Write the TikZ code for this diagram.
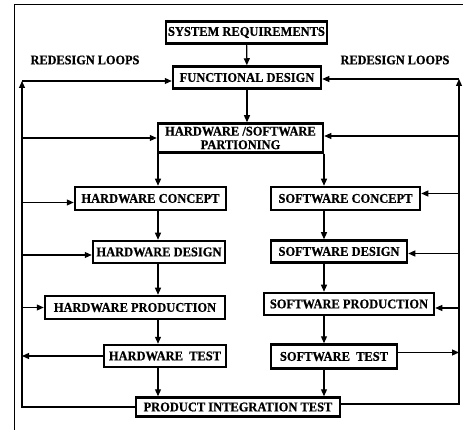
\documentclass[tikz,border=0pt]{standalone}
\usepackage{fontspec}
\setmainfont{Liberation Serif}
\newfontfamily\boxfont[FakeStretch=0.93,FakeBold=0.6]{Liberation Serif}
\usetikzlibrary{arrows.meta,calc}
\tikzset{
  box/.style={draw=black, line width=2.5pt, fill=white, inner sep=0pt,
    font=\boxfont\fontsize{13.4}{13.5}\selectfont\bfseries, align=center},
  arr/.style={line width=1.2pt, -{Triangle[length=7pt,width=6pt]}},
  loopline/.style={line width=1.1pt},
  lbl/.style={font=\boxfont\fontsize{13.2}{13.5}\selectfont\bfseries, inner sep=0pt},
  frame/.style={line width=1pt}
}
\begin{document}
\begin{tikzpicture}[x=1pt,y=-1pt]
\useasboundingbox (0,0) rectangle (463,430);
\fill[white] (0,0) rectangle (463,430);

% outer frame (left and top edges)
\draw[frame] (14,430) -- (14,5) -- (463,5);

% process boxes
\node[box, minimum width=161, minimum height=22] (sr)   at (246.5,32.5) {SYSTEM REQUIREMENTS};
\node[box, minimum width=148, minimum height=22] (fd)   at (247,77.5)   {FUNCTIONAL DESIGN};
\node[box, minimum width=165, minimum height=29] (hwsw) at (240.5,138)  {HARDWARE /SOFTWARE\\PARTIONING};
\node[box, minimum width=151, minimum height=23] (hwc)  at (150.5,198.5){HARDWARE CONCEPT};
\node[box, minimum width=149, minimum height=23] (swc)  at (345.5,198.5){SOFTWARE CONCEPT};
\node[box, minimum width=132, minimum height=22] (hwd)  at (159,252)    {HARDWARE DESIGN};
\node[box, minimum width=136, minimum height=22] (swd)  at (339,251.5)  {SOFTWARE DESIGN};
\node[box, minimum width=180, minimum height=23] (hwp)  at (135,307.5)  {HARDWARE PRODUCTION};
\node[box, minimum width=170, minimum height=22] (swp)  at (349,304)    {SOFTWARE PRODUCTION};
\node[box, minimum width=122, minimum height=22] (hwt)  at (165,356)    {HARDWARE~~TEST};
\node[box, minimum width=126, minimum height=24] (swt)  at (334,356.5)  {SOFTWARE~~TEST};
\node[box, minimum width=204, minimum height=19] (pit)  at (238,407)    {PRODUCT INTEGRATION TEST};

% loop labels
\node[lbl] (ll) at (85,60)  {REDESIGN LOOPS};
\node[lbl] (rl) at (395,60) {REDESIGN LOOPS};

% column and loop reference points
\coordinate (hwcol) at (158,0);
\coordinate (swcol) at (324,0);
\coordinate (lx) at (22,81);
\coordinate (rx) at (459,79);

% main flow
\draw[arr] (sr) -- (fd);
\draw[arr] (fd) -- (fd.south |- hwsw.north);
\draw[arr] (hwsw.south -| hwcol) -- (hwc.north -| hwcol);
\draw[arr] (hwsw.south -| swcol) -- (swc.north -| swcol);
\draw[arr] (hwc.south -| hwcol) -- (hwd.north -| hwcol);
\draw[arr] (swc.south -| swcol) -- (swd.north -| swcol);
\draw[arr] (hwd.south -| hwcol) -- (hwp.north -| hwcol);
\draw[arr] (swd.south -| swcol) -- (swp.north -| swcol);
\draw[arr] (hwp.south -| hwcol) -- (hwt.north -| hwcol);
\draw[arr] (swp.south -| swcol) -- (swt.north -| swcol);
\draw[arr] (hwt.south -| hwcol) -- (pit.north -| hwcol);
\draw[arr] (swt.south -| swcol) -- (pit.north -| swcol);

% left redesign loop
\draw[loopline, -{Triangle[length=7pt,width=6pt]}] (pit.west) -| (lx);
\draw[arr, line width=1.1pt] (lx) -- (lx -| fd.west);
\draw[arr, line width=1.1pt] (lx |- hwsw.west) -- (hwsw.west);
\draw[arr, line width=1.1pt] ($(lx |- hwc.west)+(0,4)$) -- ($(hwc.west)+(0,4)$);
\draw[arr, line width=1.1pt] ($(lx |- hwd.west)+(0,3)$) -- ($(hwd.west)+(0,3)$);
\draw[arr, line width=1.1pt] (lx |- hwp.west) -- (hwp.west);
\draw[arr] (hwt.west) -- (hwt.west -| lx);

% right redesign loop
\draw[loopline, -{Triangle[length=7pt,width=6pt]}] ($(pit.east)+(0,-3)$) -| (rx);
\draw[arr, line width=1.1pt] (rx) -- (rx -| fd.east);
\draw[arr, line width=1.1pt] ($(rx |- hwsw.east)+(0,-2)$) -- ($(hwsw.east)+(0,-2)$);
\draw[arr, line width=1.1pt] ($(rx |- swc.east)+(0,-5)$) -- ($(swc.east)+(0,-5)$);
\draw[arr, line width=1.1pt] ($(rx |- swd.east)+(0,2)$) -- ($(swd.east)+(0,2)$);
\draw[arr, line width=1.1pt] ($(rx |- swp.east)+(0,4)$) -- ($(swp.east)+(0,4)$);
\draw[arr] ($(swt.east)+(0,-4)$) -- ($(swt.east -| rx)+(0,-4)$);
\end{tikzpicture}
\end{document}
